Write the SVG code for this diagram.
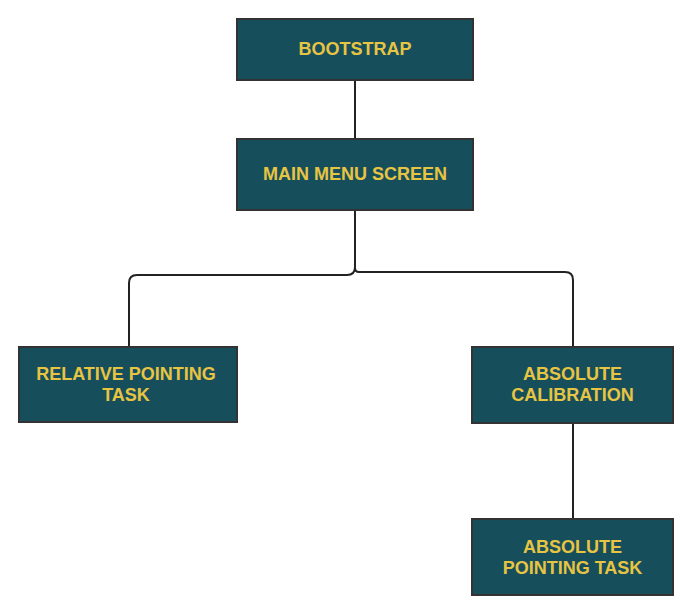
<svg xmlns="http://www.w3.org/2000/svg" width="693" height="615" viewBox="0 0 693 615">
<style>
.box{fill:#164f5b;stroke:#333;stroke-width:2}
.lbl{font-family:"Liberation Sans",Arial,sans-serif;font-weight:bold;font-size:18px;fill:#e8c443;text-anchor:middle}
.conn{fill:none;stroke:#222;stroke-width:2}
</style>
<rect width="693" height="615" fill="#fff"/>
<g id="connectors">
<path class="conn" d="M355 80 V139"/>
<path class="conn" d="M355 210 V267 Q355 275 347 275 H137 Q129 275 129 283 V347"/>
<path class="conn" d="M355 268 Q355 272 359 272 H565 Q573 272 573 280 V347"/>
<path class="conn" d="M573 423 V519"/>
</g>
<g id="bootstrap">
<rect class="box" x="237" y="19" width="236" height="61"/>
<text class="lbl" x="355" y="55">BOOTSTRAP</text>
</g>
<g id="main-menu">
<rect class="box" x="237" y="139" width="236" height="71"/>
<text class="lbl" x="355" y="180">MAIN MENU SCREEN</text>
</g>
<g id="relative-pointing">
<rect class="box" x="19" y="347" width="218" height="75"/>
<text class="lbl" x="126" y="380">RELATIVE POINTING</text>
<text class="lbl" x="126" y="401">TASK</text>
</g>
<g id="absolute-calibration">
<rect class="box" x="472" y="347" width="201" height="76"/>
<text class="lbl" x="572.5" y="380">ABSOLUTE</text>
<text class="lbl" x="572.5" y="401">CALIBRATION</text>
</g>
<g id="absolute-pointing">
<rect class="box" x="472" y="519" width="201" height="76"/>
<text class="lbl" x="572.5" y="553">ABSOLUTE</text>
<text class="lbl" x="572.5" y="574">POINTING TASK</text>
</g>
</svg>
